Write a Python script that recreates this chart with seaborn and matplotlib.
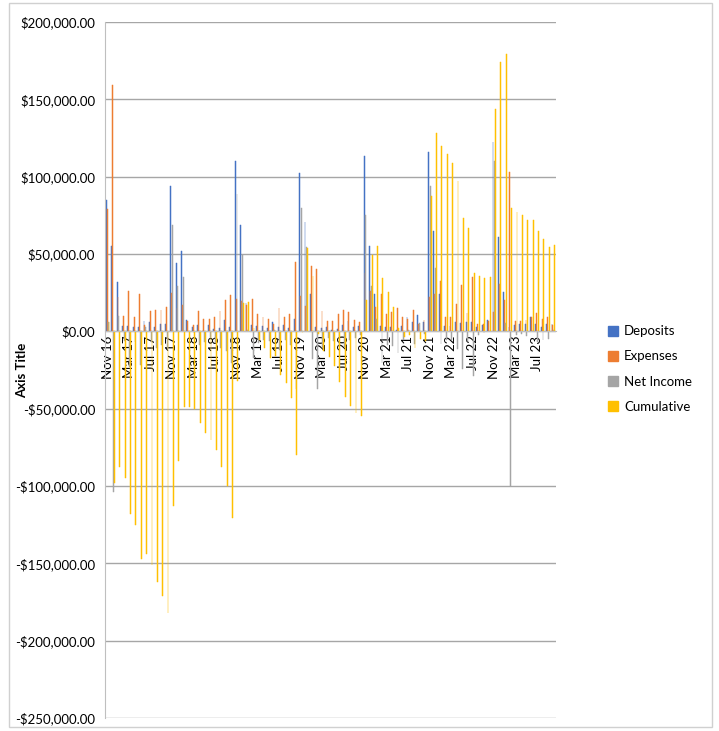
import matplotlib
matplotlib.use('Agg')
import matplotlib.pyplot as plt
import matplotlib.ticker as mticker
from matplotlib.lines import Line2D
from matplotlib.patches import Rectangle
import pandas as pd
import seaborn as sns

# monthly values, in thousands of dollars, Nov 16 .. Oct 23
months = pd.date_range('2016-11-01', periods=84, freq='MS').strftime('%b %y').tolist()

deposits = [85, 55, 32, 3.5, 3.5, 2.5, 2.5, 7, 6, 3, 5, 5,
            94, 44, 52, 7.5, 3, 4, 1, 4, 1.5, 2, 7.5, 3,
            110, 69, 18, 4, 3.5, 3.5, 2, 6, 3, 4, 2, 8,
            102.5, 71, 24, 3, 2, 2.5, 1, 1.5, 4, 7, 3, 3.5,
            113.5, 55, 24, 3.5, 2.5, 3, 1, 3.5, 9, 6, 10.5, 6,
            116, 65, 24, 3.5, 3.5, 6, 5.5, 6, 6, 2.5, 4, 7.5,
            122.5, 61, 25.5, 3, 4, 5, 4.5, 9, 5, 2.5, 4.5, 5]
expenses = [79, 159, 22, 10, 26, 9.5, 24, 4, 13, 14, 14, 16,
            25, 15, 17, 7, 4, 13, 8, 8, 9, 13, 20, 23.5,
            21, 19.5, 17, 21, 11, 9, 8, 5, 15, 9.5, 11, 45,
            23, 16.5, 42, 40.5, 13, 6.5, 7, 11.5, 14, 12.5, 7.5, 6,
            38, 26, 16, 24, 11.5, 12.5, 15, 9, 8, 14, 5, 7.5,
            22, 24, 32.5, 9, 9, 17.5, 30, 12, 35, 5, 5, 7,
            12.5, 30.5, 20, 103, 6.5, 7, 7.5, 9, 12, 8, 9.5, 4]
net_income = [6, -104, 10, -6.5, -23, -7, -21.5, 3, -7, -11, -9, -11,
              69, 29, 35, 0.5, -1, -9, -7, -4, -7.5, -11, -12.5, -20.5,
              89, 49.5, 1, -17, -7.5, -5.5, -6, 1, -12, -5.5, -9, -37,
              79.5, 54.5, -18, -37.5, -11, -4, -6, -10, -10, -5.5, -4.5, -2.5,
              75.5, 29, 8, -20.5, -9, -9.5, -14, -5.5, 1, -8, 5.5, -1.5,
              94, 41, -8.5, -5.5, -5.5, -11.5, -24.5, -6, -29, -2.5, -1, 0.5,
              110, 30.5, 5.5, -100, -2.5, -2, -3, 0, -7, -5.5, -5, 1]
cumulative = [6, -98, -88, -95, -118, -125, -147, -144, -151, -162, -171, -182,
              -113, -84, -49, -49, -50, -59, -66, -70, -77, -88, -100, -121,
              -32, 18, 19, 2, -5.5, -11, -17, -16, -28, -33.5, -43, -80,
              -0.5, 54, 36, -1.5, -12.5, -16.5, -22.5, -32.5, -42.5, -48, -52.5, -55,
              20.5, 49.5, 55, 34.5, 25.5, 16, 2, -3.5, -2.5, -10.5, -5, -6.5,
              87.5, 128.5, 120, 114.5, 109, 97.5, 73, 67, 38, 35.5, 34.5, 35,
              144, 174, 179.5, 79.5, 77, 75, 72, 72, 65, 59.5, 54.5, 55.5]

series_names = ['Deposits', 'Expenses', 'Net Income', 'Cumulative']
colors = ['#4472C4', '#ED7D31', '#A5A5A5', '#FFC000']

df = pd.DataFrame({
    'Month': months * 4,
    'Series': [s for s in series_names for _ in months],
    'Value': [v * 1000 for v in deposits + expenses + net_income + cumulative],
})

W, H = 719, 731
fig = plt.figure(figsize=(W / 100, H / 100), dpi=100)
plt.rcParams['font.family'] = ['Lato', 'DejaVu Sans']

# chart area border
fig.add_artist(Rectangle((9 / W, 4 / H), 703 / W, 724 / H, transform=fig.transFigure,
                         fill=False, edgecolor='#D0D0D0', linewidth=1))

ax = fig.add_axes([105 / W, (H - 718) / H, (556 - 105) / W, (718 - 22) / H])
sns.barplot(data=df, x='Month', y='Value', hue='Series', palette=colors,
            width=0.65, linewidth=0, saturation=1, ax=ax, legend=False)

# bars are under a pixel wide; give them a hairline edge so none vanish
for p in ax.patches:
    p.set_edgecolor(p.get_facecolor())
    p.set_linewidth(0.35)

ax.set_ylim(-250000, 200000)
ax.set_xlim(-0.5, len(months) - 0.5)
ax.set_yticks(range(-250000, 200001, 50000))
ax.yaxis.set_major_formatter(mticker.FuncFormatter(
    lambda v, p: ('-$' if v < 0 else '$') + f'{abs(v):,.2f}'))
ax.grid(axis='y', color='#A6A6A6', linewidth=1)
ax.set_axisbelow(True)
for s in ['top', 'right']:
    ax.spines[s].set_visible(False)
ax.spines['left'].set_color('#BFBFBF')
ax.spines['bottom'].set_position(('data', 0))
ax.spines['bottom'].set_color('#BFBFBF')

ax.set_xticks(range(0, len(months), 4))
ax.set_xticklabels(months[::4], rotation=90, fontsize=9.5, color='#000000')
ax.tick_params(axis='x', length=0, pad=3)
ax.tick_params(axis='y', length=0, pad=7, labelsize=9.5, labelcolor='#000000')
ax.set_xlabel('')
ax.set_ylabel('Axis Title', fontsize=9.5, fontweight='bold')
ax.yaxis.set_label_coords((28 - 105) / 451, 0.5)

handles = [Line2D([], [], marker='s', linestyle='', markersize=7, color=c) for c in colors]
fig.legend(handles, series_names, loc='center left', bbox_to_anchor=(595 / W, (H - 369) / H),
           frameon=False, fontsize=9.5, labelspacing=1.0, handletextpad=0.3,
           handlelength=1.0)

fig.savefig('out.png', dpi=100)
